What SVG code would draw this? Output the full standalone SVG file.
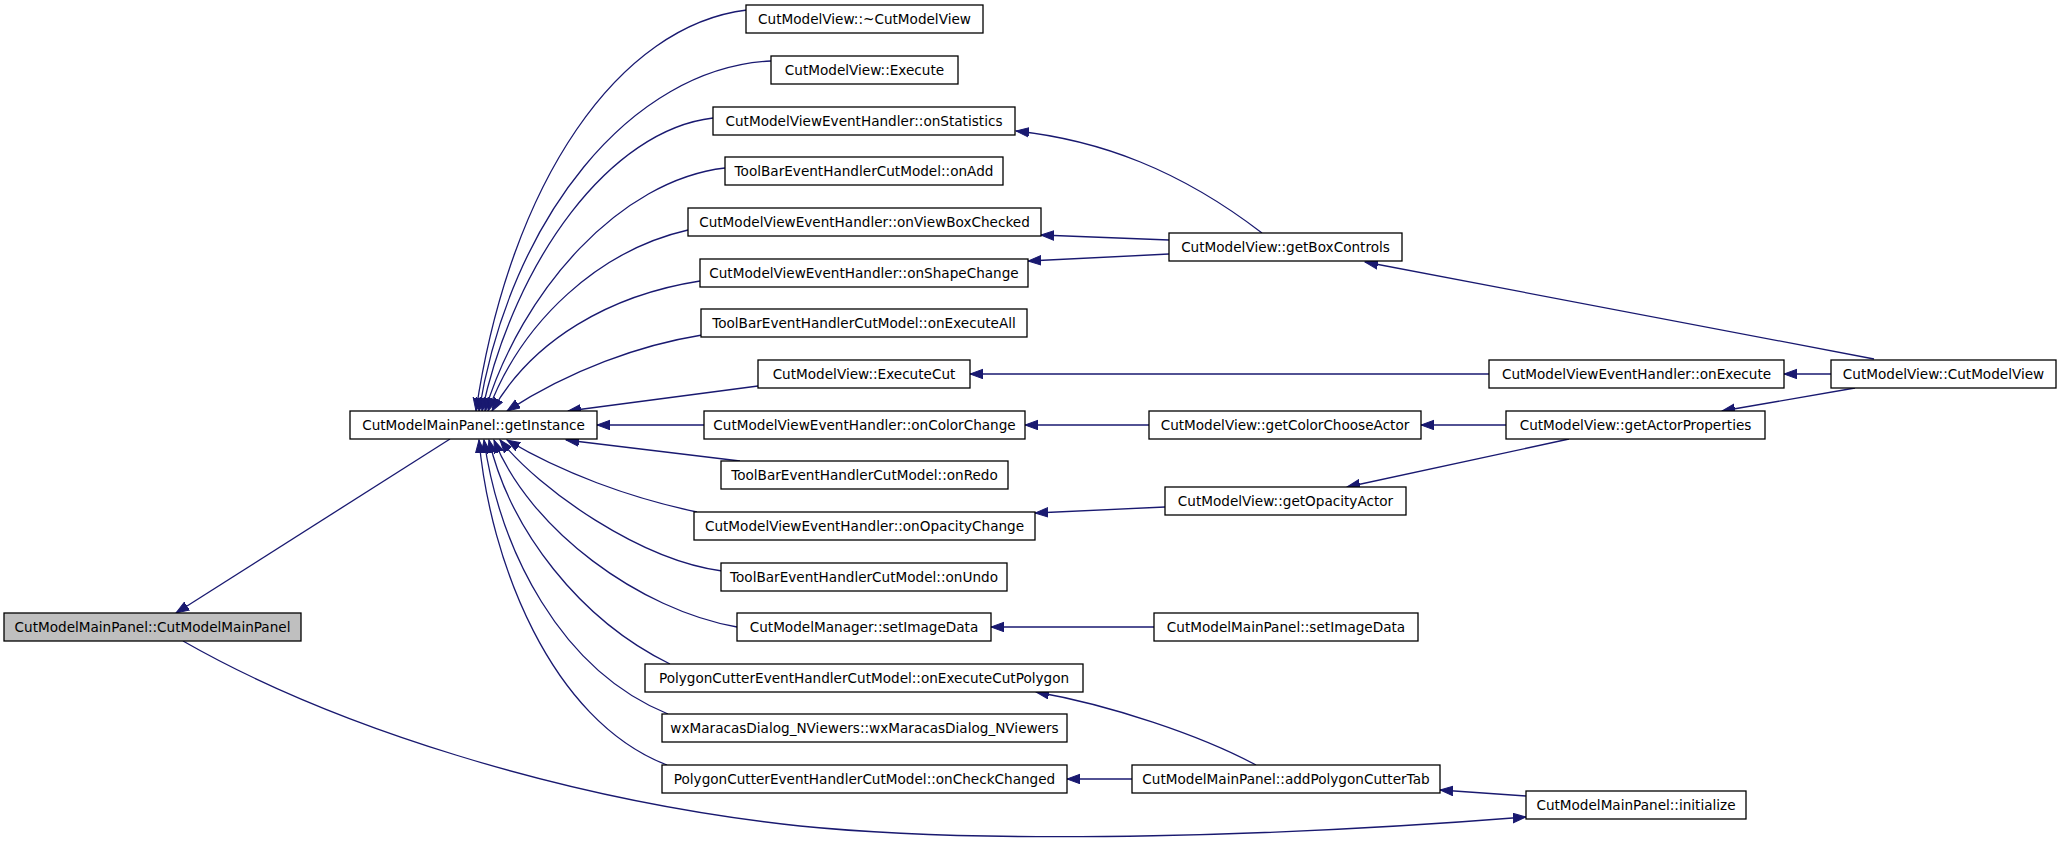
<svg xmlns="http://www.w3.org/2000/svg" width="2061" height="851" viewBox="0 0 2061 851">
<style>
.n rect{fill:#ffffff;stroke:#000000;stroke-width:1.3}
.n.focus rect{fill:#bfbfbf}
.n text{font-family:"DejaVu Sans","Liberation Sans",sans-serif;font-size:13.6px;fill:#000000;text-anchor:middle}
#edges path{fill:none;stroke:#191970;stroke-width:1.3;marker-end:url(#arr)}
</style>
<defs>
<marker id="arr" markerWidth="14" markerHeight="11" refX="13" refY="5.25" orient="auto" markerUnits="userSpaceOnUse">
<path d="M0,0.5 L13,5.25 L0,10 z" fill="#191970" stroke="#191970" stroke-width="1"/>
</marker>
</defs>
<rect x="0" y="0" width="2061" height="851" fill="#ffffff"/>
<g id="edges">
<path d="M450,439 L176,613"/>
<path d="M183,641 C330,725 560,800 800,826 C1000,846 1300,835 1526,817"/>
<path d="M747,10 C620,25 510,180 476,411"/>
<path d="M771,61 C630,68 510,220 479,411"/>
<path d="M713,118 C610,130 515,260 482,411"/>
<path d="M725,168 C620,180 522,290 485,411"/>
<path d="M688,230 C600,250 522,320 488,411"/>
<path d="M700,281 C610,295 532,340 492,411"/>
<path d="M702,335 C640,345 570,370 507,411"/>
<path d="M758,386 L568,411"/>
<path d="M704,425 L597,425"/>
<path d="M740,461 L566,440"/>
<path d="M697,512 C630,498 560,472 507,440"/>
<path d="M722,571 C640,560 540,490 500,440"/>
<path d="M737,627 C640,610 530,530 494,440"/>
<path d="M670,664 C580,620 510,530 489,440"/>
<path d="M668,714 C560,670 500,550 484,440"/>
<path d="M667,765 C550,720 490,560 479,440"/>
<path d="M1262,233 C1180,170 1100,140 1016,131"/>
<path d="M1169,240 L1041,235"/>
<path d="M1169,254 L1028,261"/>
<path d="M1874,359 L1365,262"/>
<path d="M1489,374 L970,374"/>
<path d="M1831,374 L1784,374"/>
<path d="M1855,388 L1722,411"/>
<path d="M1506,425 L1421,425"/>
<path d="M1149,425 L1025,425"/>
<path d="M1569,439 L1347,487"/>
<path d="M1165,507 L1035,513"/>
<path d="M1154,627 L991,627"/>
<path d="M1256,765 C1200,735 1110,705 1036,692"/>
<path d="M1132,779 L1067,779"/>
<path d="M1526,796 L1440,790"/>
</g>
<g id="n_cmmp_ctor" class="n focus"><rect x="4" y="613" width="297" height="28"/><text x="152.5" y="632">CutModelMainPanel::CutModelMainPanel</text></g>
<g id="n_getInstance" class="n"><rect x="350" y="411" width="247" height="28"/><text x="473.5" y="430">CutModelMainPanel::getInstance</text></g>
<g id="n_cmv_dtor" class="n"><rect x="746" y="5" width="237" height="28"/><text x="864.5" y="24">CutModelView::~CutModelView</text></g>
<g id="n_cmv_execute" class="n"><rect x="771" y="56" width="187" height="28"/><text x="864.5" y="75">CutModelView::Execute</text></g>
<g id="n_onStatistics" class="n"><rect x="713" y="107" width="302" height="28"/><text x="864" y="126">CutModelViewEventHandler::onStatistics</text></g>
<g id="n_onAdd" class="n"><rect x="725" y="157" width="278" height="28"/><text x="864" y="176">ToolBarEventHandlerCutModel::onAdd</text></g>
<g id="n_onViewBoxChecked" class="n"><rect x="688" y="208" width="353" height="28"/><text x="864.5" y="227">CutModelViewEventHandler::onViewBoxChecked</text></g>
<g id="n_onShapeChange" class="n"><rect x="700" y="259" width="328" height="28"/><text x="864" y="278">CutModelViewEventHandler::onShapeChange</text></g>
<g id="n_onExecuteAll" class="n"><rect x="701" y="309" width="326" height="28"/><text x="864" y="328">ToolBarEventHandlerCutModel::onExecuteAll</text></g>
<g id="n_executeCut" class="n"><rect x="758" y="360" width="212" height="28"/><text x="864" y="379">CutModelView::ExecuteCut</text></g>
<g id="n_onColorChange" class="n"><rect x="704" y="411" width="321" height="28"/><text x="864.5" y="430">CutModelViewEventHandler::onColorChange</text></g>
<g id="n_onRedo" class="n"><rect x="721" y="461" width="287" height="28"/><text x="864.5" y="480">ToolBarEventHandlerCutModel::onRedo</text></g>
<g id="n_onOpacityChange" class="n"><rect x="694" y="512" width="341" height="28"/><text x="864.5" y="531">CutModelViewEventHandler::onOpacityChange</text></g>
<g id="n_onUndo" class="n"><rect x="721" y="563" width="286" height="28"/><text x="864" y="582">ToolBarEventHandlerCutModel::onUndo</text></g>
<g id="n_cmm_setImageData" class="n"><rect x="737" y="613" width="254" height="28"/><text x="864" y="632">CutModelManager::setImageData</text></g>
<g id="n_onExecuteCutPolygon" class="n"><rect x="645" y="664" width="438" height="28"/><text x="864" y="683">PolygonCutterEventHandlerCutModel::onExecuteCutPolygon</text></g>
<g id="n_wxMaracas" class="n"><rect x="662" y="714" width="405" height="28"/><text x="864.5" y="733">wxMaracasDialog_NViewers::wxMaracasDialog_NViewers</text></g>
<g id="n_onCheckChanged" class="n"><rect x="662" y="765" width="405" height="28"/><text x="864.5" y="784">PolygonCutterEventHandlerCutModel::onCheckChanged</text></g>
<g id="n_getBoxControls" class="n"><rect x="1169" y="233" width="233" height="28"/><text x="1285.5" y="252">CutModelView::getBoxControls</text></g>
<g id="n_getColorChooseActor" class="n"><rect x="1149" y="411" width="272" height="28"/><text x="1285" y="430">CutModelView::getColorChooseActor</text></g>
<g id="n_getOpacityActor" class="n"><rect x="1165" y="487" width="241" height="28"/><text x="1285.5" y="506">CutModelView::getOpacityActor</text></g>
<g id="n_cmmp_setImageData" class="n"><rect x="1154" y="613" width="264" height="28"/><text x="1286" y="632">CutModelMainPanel::setImageData</text></g>
<g id="n_addPolygonCutterTab" class="n"><rect x="1132" y="765" width="308" height="28"/><text x="1286" y="784">CutModelMainPanel::addPolygonCutterTab</text></g>
<g id="n_onExecute" class="n"><rect x="1489" y="360" width="295" height="28"/><text x="1636.5" y="379">CutModelViewEventHandler::onExecute</text></g>
<g id="n_getActorProperties" class="n"><rect x="1506" y="411" width="259" height="28"/><text x="1635.5" y="430">CutModelView::getActorProperties</text></g>
<g id="n_initialize" class="n"><rect x="1526" y="791" width="220" height="28"/><text x="1636" y="810">CutModelMainPanel::initialize</text></g>
<g id="n_cmv_ctor" class="n"><rect x="1831" y="360" width="225" height="28"/><text x="1943.5" y="379">CutModelView::CutModelView</text></g>
</svg>
